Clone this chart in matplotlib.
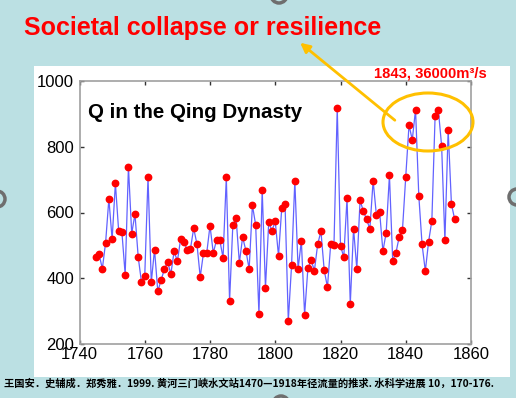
import matplotlib
matplotlib.use("Agg")
import matplotlib.pyplot as plt
from matplotlib.patches import Rectangle, Ellipse, Circle, FancyArrowPatch

# ---- data ----
years = list(range(1745, 1856))
flow = [464, 473, 429, 508, 641, 519, 689, 544, 540, 411,
        739, 536, 595, 464, 388, 407, 707, 388, 487, 360,
        394, 427, 450, 413, 482, 452, 519, 510, 487, 489,
        552, 504, 404, 477, 477, 560, 477, 516, 516, 462,
        707, 331, 563, 583, 447, 525, 484, 428, 622, 562,
        291, 668, 371, 570, 545, 573, 468, 615, 626, 271,
        439, 697, 428, 514, 289, 430, 455, 423, 503, 543,
        425, 373, 504, 501, 919, 499, 464, 643, 322, 551,
        429, 637, 604, 579, 550, 697, 592, 601, 482, 539,
        713, 453, 478, 526, 548, 709, 866, 821, 913, 651,
        503, 422, 511, 575, 894, 911, 802, 515, 851, 626,
        579]
xticks = [1740, 1760, 1780, 1800, 1820, 1840, 1860]
yticks = [200, 400, 600, 800, 1000]
title_main = "Societal collapse or resilience"
title_plot = "Q in the Qing Dynasty"
note = "1843, 36000m³/s"
citation = "王国安．史辅成．郑秀雅．1999. 黄河三门峡水文站1470—1918年径流量的推求. 水科学进展 10，170-176."

W, H = 516, 398
fig = plt.figure(figsize=(W / 100, H / 100), dpi=100)
fig.patch.set_facecolor("#BBE0E3")

def frac(x0, y0, x1, y1):
    return [x0 / W, 1 - y1 / H, (x1 - x0) / W, (y1 - y0) / H]

# background layer
bg = fig.add_axes([0, 0, 1, 1], zorder=0)
bg.set_xlim(0, W); bg.set_ylim(H, 0); bg.axis("off")
bg.add_patch(Rectangle((34, 66), 476, 311, facecolor="white", edgecolor="none"))
for cx, cy in [(-3, 199), (279, -5), (281, 404), (517, 197)]:
    bg.add_patch(Circle((cx, cy), 8, facecolor="none", edgecolor="#6E6E6E", lw=2.5))

# data axes
ax = fig.add_axes(frac(79.5, 81, 471, 344), zorder=1)
ax.patch.set_alpha(0)
ax.plot(years, flow, color="#6262FF", lw=0.9, zorder=2)
ax.plot(years, flow, linestyle="none", marker="o", ms=4.6, color="#FF0000",
        markeredgecolor="#FF0000", zorder=3)
ax.set_xlim(1740, 1860)
ax.set_ylim(200, 1000)
ax.set_xticks(xticks)
ax.set_yticks(yticks)
for s in ax.spines.values():
    s.set_color("#A0A0A0")
    s.set_linewidth(1.2)
ax.tick_params(direction="in", length=3, width=1, color="#333333",
               top=True, right=True, labelsize=12)
ax.tick_params(axis="y", pad=4)
ax.tick_params(axis="x", pad=2)
for lab in ax.get_xticklabels() + ax.get_yticklabels():
    lab.set_fontfamily("Liberation Sans")
ax.text(0.022, 0.88, title_plot, transform=ax.transAxes, fontsize=14.8,
        fontweight="bold", family="Liberation Sans", va="center", ha="left")

# foreground layer
fg = fig.add_axes([0, 0, 1, 1], zorder=2)
fg.set_xlim(0, W); fg.set_ylim(H, 0); fg.axis("off")
fg.patch.set_alpha(0)
fg.text(24, 28, title_main, color="#FF0000", fontsize=18, fontweight="bold",
        family="Liberation Sans", va="center", ha="left")
fg.text(487, 73, note, color="#FF0000", fontsize=10.6, fontweight="bold",
        family="Liberation Sans", va="center", ha="right")
fg.add_patch(Ellipse((428, 122), 90, 58, facecolor="none", edgecolor="#FFC000", lw=2.2))
fg.add_patch(FancyArrowPatch((397, 122), (298, 41), arrowstyle="-|>",
                             mutation_scale=14, color="#FFC000", lw=2))
fg.text(4, 384, citation, fontsize=7.4, fontweight="bold",
        family=["Noto Sans CJK SC", "DejaVu Sans"], va="center", ha="left")

fig.savefig("out.png", dpi=100, facecolor=fig.get_facecolor())
